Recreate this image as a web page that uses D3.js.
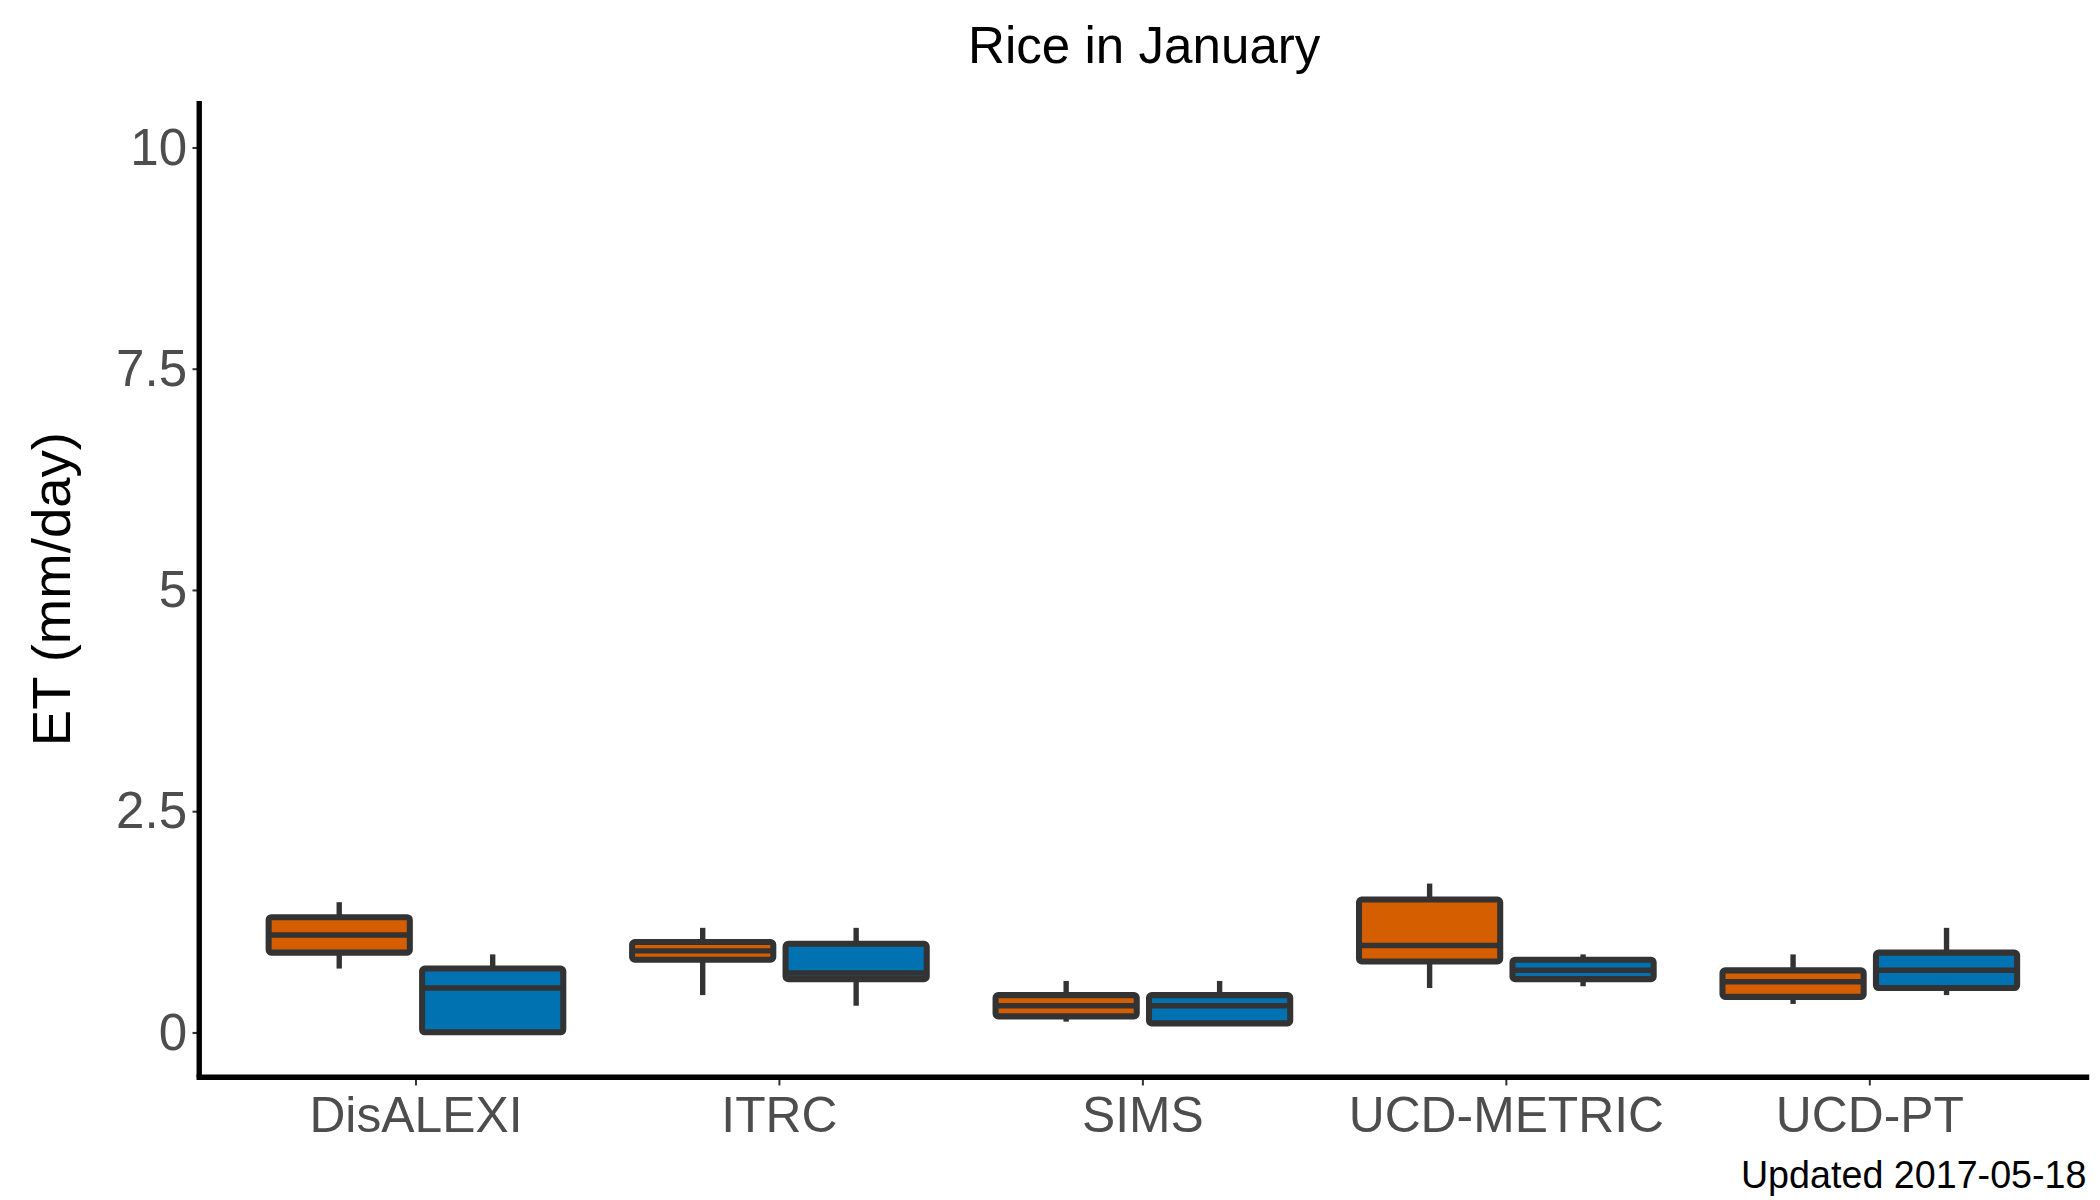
<!DOCTYPE html>
<html><head><meta charset="utf-8">
<script src="https://cdn.jsdelivr.net/npm/d3@7"></script>
<style>body{margin:0;background:#fff}</style>
</head><body>
<script>
// categories and series
const models = ["DisALEXI", "ITRC", "SIMS", "UCD-METRIC", "UCD-PT"];
const groups = ["a", "b"];
const groupColors = ["#D55E00", "#0072B2"];
// [lowWhisker, q1, median, q3, highWhisker] per model
const seriesA = [[0.72, 0.9, 1.1, 1.3, 1.47], [0.42, 0.82, 0.92, 1.02, 1.18], [0.12, 0.18, 0.3, 0.42, 0.58], [0.5, 0.8, 0.98, 1.5, 1.68], [0.32, 0.4, 0.57, 0.7, 0.88]];
const seriesB = [[0, 0, 0.5, 0.72, 0.88], [0.3, 0.6, 0.67, 1.0, 1.18], [0.1, 0.1, 0.3, 0.42, 0.58], [0.52, 0.6, 0.7, 0.82, 0.88], [0.42, 0.5, 0.7, 0.9, 1.18]];
const yTicks = [0, 2.5, 5, 7.5, 10];
const yTickLabels = ["0", "2.5", "5", "7.5", "10"];

let svg = d3.select("body").append("svg")
  .attr("width", 2100).attr("height", 1200)
  .attr("viewBox", "0 0 1560 880").attr("preserveAspectRatio", "none")
  .style("font-family", "Arial, 'Liberation Sans', sans-serif");

const left = 148, right = 1552, bottom = 790;
let x = d3.scaleBand().domain(models).range([174, 1524]).paddingInner(0).paddingOuter(0);
let xg = d3.scaleBand().domain(groups).range([21, 249]).paddingInner(0.08).paddingOuter(0.04);
let y = d3.scaleLinear().domain([0, 10]).range([757, 108]);

// axes
let ya = svg.append("g").attr("transform", `translate(${left},0)`)
  .call(d3.axisLeft(y).tickValues(yTicks).tickFormat((d, i) => yTickLabels[i]).tickSize(5).tickPadding(4));
ya.select(".domain").remove();
ya.selectAll("line").attr("stroke", "#333").attr("stroke-width", 1.5);
ya.selectAll("text").attr("fill", "#4d4d4d").style("font-size", "38px");
svg.append("line").attr("x1", left).attr("x2", left).attr("y1", 74).attr("y2", bottom)
  .attr("stroke", "#000").attr("stroke-width", 4);

let xa = svg.append("g").attr("transform", `translate(0,${bottom})`)
  .call(d3.axisBottom(x).tickSize(6).tickPadding(8));
xa.select(".domain").remove();
xa.selectAll("line").attr("stroke", "#333").attr("stroke-width", 1.5);
xa.selectAll("text").attr("fill", "#4d4d4d").style("font-size", "37px");
svg.append("line").attr("x1", left - 2).attr("x2", right).attr("y1", bottom).attr("y2", bottom)
  .attr("stroke", "#000").attr("stroke-width", 4);

// boxes
const all = [seriesA, seriesB];
all.forEach((series, gi) => {
  const g = svg.append("g");
  series.forEach((d, i) => {
    const x0 = x(models[i]) + xg(groups[gi]);
    const w = xg.bandwidth();
    const cx = x0 + w / 2;
    g.append("line").attr("x1", cx).attr("x2", cx).attr("y1", y(d[4])).attr("y2", y(d[3]))
      .attr("stroke", "#333").attr("stroke-width", 4);
    g.append("line").attr("x1", cx).attr("x2", cx).attr("y1", y(d[1])).attr("y2", y(d[0]))
      .attr("stroke", "#333").attr("stroke-width", 4);
    g.append("rect").attr("x", x0).attr("width", w).attr("y", y(d[3])).attr("height", y(d[1]) - y(d[3]))
      .attr("fill", groupColors[gi]).attr("stroke", "#333").attr("stroke-width", 4.5).attr("rx", 2);
    g.append("line").attr("x1", x0).attr("x2", x0 + w).attr("y1", y(d[2])).attr("y2", y(d[2]))
      .attr("stroke", "#333").attr("stroke-width", 4);
  });
});

// titles
svg.append("text").attr("x", 850).attr("y", 46).attr("text-anchor", "middle")
  .style("font-size", "38px").text("Rice in January");
svg.append("text").attr("transform", "translate(52,432) rotate(-90)").attr("text-anchor", "middle")
  .style("font-size", "40px").text("ET (mm/day)");
svg.append("text").attr("x", 1550).attr("y", 871).attr("text-anchor", "end")
  .style("font-size", "28px").text("Updated  2017-05-18");
</script>
</body></html>
